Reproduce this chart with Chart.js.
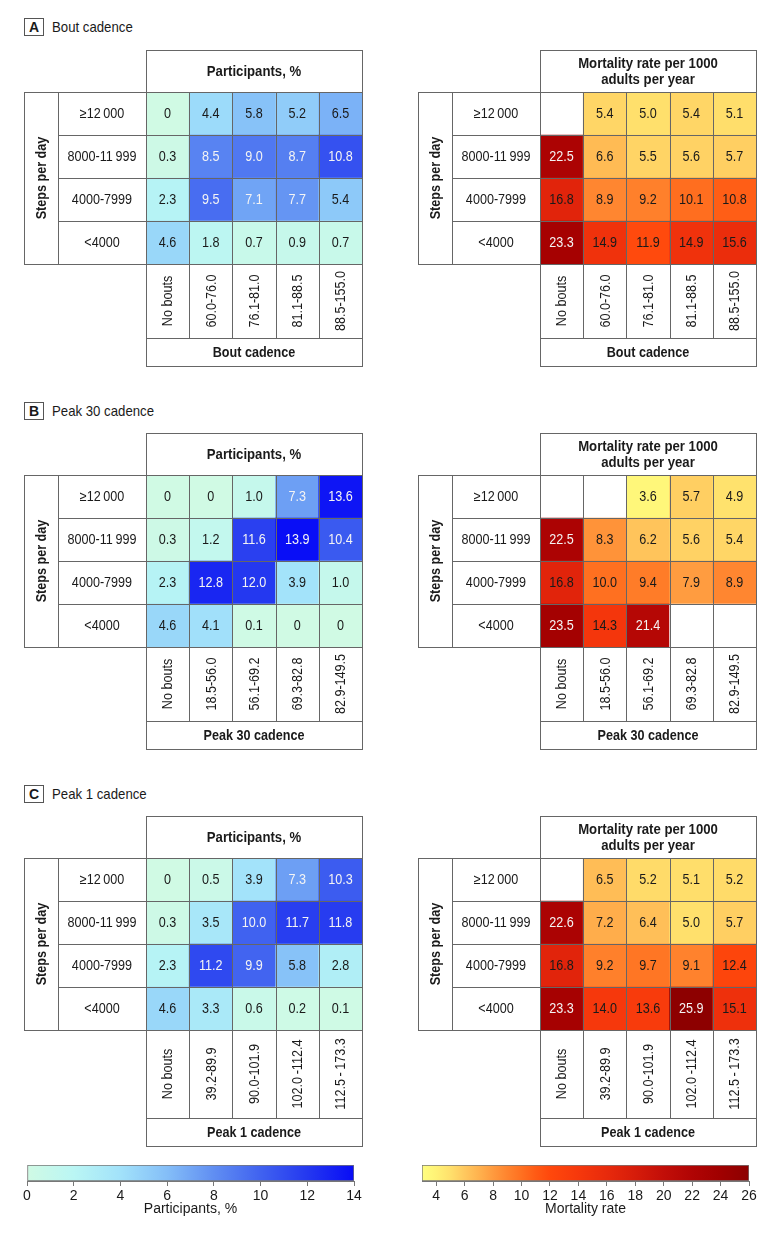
<!DOCTYPE html>
<html>
<head>
<meta charset="utf-8">
<script src="https://cdn.jsdelivr.net/npm/chart.js@4.4.1/dist/chart.umd.min.js"></script>
<style>
html,body{margin:0;padding:0;background:#fff;}
body{width:780px;height:1236px;position:relative;overflow:hidden;font-family:'Liberation Sans',Arial,sans-serif;color:#1a1a1a;}
canvas{position:absolute;}
.plabel{position:absolute;border:1px solid #555;box-sizing:border-box;font-weight:bold;font-size:14px;text-align:center;line-height:16px;}
.ptitle{position:absolute;font-size:15px;line-height:20px;transform:scaleX(0.88);transform-origin:0 50%;white-space:nowrap;}
</style>
</head>
<body>
<script>
// ---------------- DATA ----------------
const stepsRows = ['\u226512\u2009000', '8000-11\u2009999', '4000-7999', '<4000'];

const boutCols   = ['No bouts', '60.0-76.0', '76.1-81.0', '81.1-88.5', '88.5-155.0'];
const peak30Cols = ['No bouts', '18.5-56.0', '56.1-69.2', '69.3-82.8', '82.9-149.5'];
const peak1Cols  = ['No bouts', '39.2-89.9', '90.0-101.9', '102.0\u2009-112.4', '112.5\u2009-\u2009173.3'];

// rows top to bottom: >=12000, 8000-11999, 4000-7999, <4000
const boutParticipants = [
  [0, 4.4, 5.8, 5.2, 6.5],
  [0.3, 8.5, 9.0, 8.7, 10.8],
  [2.3, 9.5, 7.1, 7.7, 5.4],
  [4.6, 1.8, 0.7, 0.9, 0.7]
];
const boutMortality = [
  [null, 5.4, 5.0, 5.4, 5.1],
  [22.5, 6.6, 5.5, 5.6, 5.7],
  [16.8, 8.9, 9.2, 10.1, 10.8],
  [23.3, 14.9, 11.9, 14.9, 15.6]
];
const peak30Participants = [
  [0, 0, 1.0, 7.3, 13.6],
  [0.3, 1.2, 11.6, 13.9, 10.4],
  [2.3, 12.8, 12.0, 3.9, 1.0],
  [4.6, 4.1, 0.1, 0, 0]
];
const peak30Mortality = [
  [null, null, 3.6, 5.7, 4.9],
  [22.5, 8.3, 6.2, 5.6, 5.4],
  [16.8, 10.0, 9.4, 7.9, 8.9],
  [23.5, 14.3, 21.4, null, null]
];
const peak1Participants = [
  [0, 0.5, 3.9, 7.3, 10.3],
  [0.3, 3.5, 10.0, 11.7, 11.8],
  [2.3, 11.2, 9.9, 5.8, 2.8],
  [4.6, 3.3, 0.6, 0.2, 0.1]
];
const peak1Mortality = [
  [null, 6.5, 5.2, 5.1, 5.2],
  [22.6, 7.2, 6.4, 5.0, 5.7],
  [16.8, 9.2, 9.7, 9.1, 12.4],
  [23.3, 14.0, 13.6, 25.9, 15.1]
];

const participantRange = [0, 14];
const mortalityRange = [3, 26];
const participantTicks = [0, 2, 4, 6, 8, 10, 12, 14];
const mortalityTicks = [4, 6, 8, 10, 12, 14, 16, 18, 20, 22, 24, 26];

// ---------------- STYLE ----------------
const FONT = "'Liberation Sans',Arial,sans-serif";
Chart.defaults.font.family = FONT;
Chart.defaults.color = '#1a1a1a';

const blueStops = [
  [0, [208, 250, 228]], [2, [186, 246, 244]], [4, [162, 226, 250]], [6, [132, 190, 248]],
  [8, [96, 142, 242]], [10, [64, 98, 240]], [12, [36, 56, 240]], [14, [8, 12, 246]]
];
const redStops = [
  [3, [255, 255, 128]], [4, [255, 242, 118]], [5, [255, 224, 108]], [6, [255, 200, 94]],
  [7, [255, 178, 78]], [8, [255, 154, 62]], [9, [255, 132, 46]], [10, [255, 112, 32]],
  [11, [255, 90, 20]], [12, [255, 72, 12]], [14, [246, 56, 12]], [16, [232, 42, 12]],
  [18, [214, 28, 10]], [20, [194, 14, 8]], [22, [176, 4, 4]], [24, [160, 0, 0]], [26, [140, 0, 0]]
];
function rgb(c) { return 'rgb(' + c.map(Math.round).join(',') + ')'; }
function colorFor(v, stops) {
  if (v <= stops[0][0]) return rgb(stops[0][1]);
  for (let i = 1; i < stops.length; i++) {
    if (v <= stops[i][0]) {
      const [a, ca] = stops[i - 1], [b, cb] = stops[i];
      const t = (v - a) / (b - a);
      return rgb(ca.map((x, k) => x + (cb[k] - x) * t));
    }
  }
  return rgb(stops[stops.length - 1][1]);
}

const LINE = '#666';
const TXT = '#1a1a1a';
const NORMAL = '14px ' + FONT;
const BOLD = 'bold 14px ' + FONT;

// draws condensed text (horizontal squeeze) at x,y with optional rotation
function txt(ctx, s, x, y, font, sx, rot) {
  ctx.save();
  ctx.translate(x, y);
  if (rot) ctx.rotate(rot);
  ctx.scale(sx, 1);
  ctx.font = font;
  ctx.textAlign = 'center';
  ctx.textBaseline = 'middle';
  ctx.fillText(s, 0, 0);
  ctx.restore();
}

// ---------------- TABLE PLUGIN ----------------
const tablePlugin = {
  id: 'tableDecor',
  afterDatasetsDraw(chart, args, o) {
    if (!o || !o.rows) return;
    const ctx = chart.ctx, ca = chart.chartArea, xs = chart.scales.x, ys = chart.scales.y;
    const n = xs.getLabels().length;
    const half = (xs.getPixelForValue(1) - xs.getPixelForValue(0)) / 2;
    const colC = [], colB = [];
    for (let i = 0; i < n; i++) { colC.push(xs.getPixelForValue(i)); colB.push(xs.getPixelForValue(i) - half); }
    colB.push(xs.getPixelForValue(n - 1) + half);
    const nr = o.rows.length;
    const rowB = [];
    for (let k = 0; k <= nr; k++) rowB.push(ys.getPixelForValue(k));
    const snap = v => Math.round(v) + 0.5;
    const left = ca.left, right = ca.right, top = ca.top, bot = ca.bottom;
    ctx.save();
    ctx.lineWidth = 1;
    ctx.strokeStyle = LINE;
    const L = (x1, y1, x2, y2) => { ctx.beginPath(); ctx.moveTo(x1, y1); ctx.lineTo(x2, y2); ctx.stroke(); };

    // cell values
    chart.data.datasets.forEach((ds, d) => {
      const meta = chart.getDatasetMeta(d);
      meta.data.forEach((el, i) => {
        const v = ds.values[i];
        if (v === null || v === undefined) return;
        ctx.fillStyle = v > o.whiteAbove ? '#f4f4f4' : TXT;
        txt(ctx, v === 0 ? '0' : v.toFixed(1), el.x, (el.y + el.base) / 2 + 1, NORMAL, 0.9);
      });
    });

    // grid lines
    colB.forEach(x => L(snap(x), snap(top), snap(x), snap(bot + o.colLabelH)));
    rowB.forEach(y => L(snap(left - o.labelW), snap(y), snap(right), snap(y)));
    // header box
    ctx.strokeRect(snap(left), snap(top - o.headerH), Math.round(right - left), Math.round(o.headerH));
    // steps box
    ctx.strokeRect(snap(left - o.labelW - o.stepsW), snap(top), Math.round(o.labelW + o.stepsW), Math.round(bot - top));
    L(snap(left - o.labelW), snap(top), snap(left - o.labelW), snap(bot));
    // column-label box and title box
    ctx.strokeRect(snap(left), snap(bot), Math.round(right - left), Math.round(o.colLabelH));
    ctx.strokeRect(snap(left), snap(bot + o.colLabelH), Math.round(right - left), Math.round(o.titleH));

    ctx.fillStyle = TXT;
    // header text
    const hc = top - o.headerH / 2;
    const hl = o.header.length;
    o.header.forEach((t, j) => txt(ctx, t, (left + right) / 2, hc + (j - (hl - 1) / 2) * 16 + 1, BOLD, 0.94));
    // title text
    txt(ctx, o.title, (left + right) / 2, bot + o.colLabelH + o.titleH / 2 + 1, BOLD, 0.9);
    // steps per day
    txt(ctx, o.stepsTitle, left - o.labelW - o.stepsW / 2 + 1, (top + bot) / 2, BOLD, 0.9, -Math.PI / 2);
    // row labels
    o.rows.forEach((r, j) => {
      txt(ctx, r, left - o.labelW / 2, ys.getPixelForValue(nr - j - 0.5) + 1, NORMAL, 0.9);
    });
    // column labels
    xs.getLabels().forEach((lab, i) => {
      txt(ctx, lab, colC[i] + 1, bot + o.colLabelH / 2, NORMAL, 0.9, -Math.PI / 2);
    });
    ctx.restore();
  }
};
Chart.register(tablePlugin);

// ---------------- LAYOUT ----------------
const headerH = 42, labelW = 88, stepsW = 34, titleH = 28, cellsH = 172, cellsW = 216, M = 4;

function makeTable(cellsLeft, cellsTop, cols, values, kind, title, colLabelH) {
  const cv = document.createElement('canvas');
  const cl = cellsLeft - labelW - stepsW - M;
  const ct = cellsTop - headerH - M;
  const w = M + labelW + stepsW + cellsW + M;
  const h = M + headerH + cellsH + colLabelH + titleH + M;
  cv.width = w; cv.height = h;
  cv.style.left = cl + 'px'; cv.style.top = ct + 'px';
  cv.style.width = w + 'px'; cv.style.height = h + 'px';
  document.body.appendChild(cv);
  const stops = kind === 'p' ? blueStops : redStops;
  const nr = values.length;
  const datasets = [];
  for (let k = 0; k < nr; k++) {
    const row = values[nr - 1 - k]; // bottom row first
    datasets.push({
      label: stepsRows[nr - 1 - k],
      values: row,
      data: row.map(() => 1),
      backgroundColor: row.map(v => (v === null ? '#ffffff' : colorFor(v, stops))),
      borderWidth: 0,
      barPercentage: 1,
      categoryPercentage: 1
    });
  }
  new Chart(cv, {
    type: 'bar',
    data: { labels: cols, datasets },
    options: {
      responsive: false,
      animation: false,
      events: [],
      devicePixelRatio: 1,
      layout: {
        padding: {
          left: cellsLeft - cl,
          top: cellsTop - ct,
          right: cl + w - (cellsLeft + cellsW),
          bottom: ct + h - (cellsTop + cellsH)
        }
      },
      scales: {
        x: { type: 'category', display: false, stacked: true, offset: true },
        y: { type: 'linear', display: false, stacked: true, min: 0, max: nr }
      },
      plugins: {
        legend: { display: false },
        tooltip: { enabled: false },
        tableDecor: {
          rows: stepsRows,
          header: kind === 'p' ? ['Participants, %'] : ['Mortality rate per 1000', 'adults per year'],
          title,
          stepsTitle: 'Steps per day',
          whiteAbove: kind === 'p' ? 7 : 20,
          headerH, labelW, stepsW, colLabelH, titleH
        }
      }
    }
  });
}

function panelLabel(letter, text, top) {
  const b = document.createElement('div');
  b.className = 'plabel';
  b.style.left = '24px'; b.style.top = top + 'px'; b.style.width = '20px'; b.style.height = '18px';
  b.textContent = letter;
  document.body.appendChild(b);
  const t = document.createElement('div');
  t.className = 'ptitle';
  t.style.left = '52px'; t.style.top = (top - 1) + 'px';
  t.textContent = text;
  document.body.appendChild(t);
}

const panels = [
  { letter: 'A', text: 'Bout cadence', labelTop: 18, cellsTop: 92, cols: boutCols, p: boutParticipants, m: boutMortality, title: 'Bout cadence', colH: 74 },
  { letter: 'B', text: 'Peak 30 cadence', labelTop: 402, cellsTop: 475, cols: peak30Cols, p: peak30Participants, m: peak30Mortality, title: 'Peak 30 cadence', colH: 74 },
  { letter: 'C', text: 'Peak 1 cadence', labelTop: 785, cellsTop: 858, cols: peak1Cols, p: peak1Participants, m: peak1Mortality, title: 'Peak 1 cadence', colH: 88 }
];
panels.forEach(pn => {
  panelLabel(pn.letter, pn.text, pn.labelTop);
  makeTable(146, pn.cellsTop, pn.cols, pn.p, 'p', pn.title, pn.colH);
  makeTable(540, pn.cellsTop, pn.cols, pn.m, 'm', pn.title, pn.colH);
});

// ---------------- COLOR BARS ----------------
function makeColorbar(barLeft, barRight, range, ticks, stops, title) {
  const cv = document.createElement('canvas');
  const cl = barLeft - 20, ct = 1160, w = (barRight - barLeft) + 40, h = 76;
  cv.width = w; cv.height = h;
  cv.style.left = cl + 'px'; cv.style.top = ct + 'px';
  cv.style.width = w + 'px'; cv.style.height = h + 'px';
  document.body.appendChild(cv);
  const [mn, mx] = range;
  new Chart(cv, {
    type: 'bar',
    data: {
      labels: [title],
      datasets: [{
        data: [range],
        backgroundColor(c) {
          const ch = c.chart;
          if (!ch.chartArea) return '#ccc';
          const xs = ch.scales.x;
          const g = ch.ctx.createLinearGradient(xs.getPixelForValue(mn), 0, xs.getPixelForValue(mx), 0);
          stops.forEach(([v, col]) => {
            const t = (v - mn) / (mx - mn);
            if (t >= 0 && t <= 1) g.addColorStop(t, rgb(col));
          });
          return g;
        },
        borderColor: '#777',
        borderWidth: 1,
        borderSkipped: false,
        barPercentage: 1,
        categoryPercentage: 1
      }]
    },
    options: {
      indexAxis: 'y',
      responsive: false,
      animation: false,
      events: [],
      devicePixelRatio: 1,
      layout: { padding: { left: 20, right: 20, top: 5, bottom: 0 } },
      scales: {
        y: { type: 'category', display: false },
        x: {
          type: 'linear', min: mn, max: mx,
          afterBuildTicks(scale) { scale.ticks = ticks.map(v => ({ value: v })); },
          afterFit(scale) { scale.height = 55; },
          grid: { drawOnChartArea: false, drawTicks: true, tickLength: 5, color: '#777' },
          border: { display: true, color: '#777' },
          ticks: { font: { size: 14, family: FONT }, color: TXT, padding: 2, maxRotation: 0, autoSkip: false },
          title: { display: true, text: title, font: { size: 14, family: FONT }, color: TXT, padding: { top: 0, bottom: 18 } }
        }
      },
      plugins: { legend: { display: false }, tooltip: { enabled: false } }
    }
  });
}
makeColorbar(27, 354, participantRange, participantTicks, blueStops, 'Participants, %');
makeColorbar(422, 749, mortalityRange, mortalityTicks, redStops, 'Mortality rate');
</script>
</body>
</html>
